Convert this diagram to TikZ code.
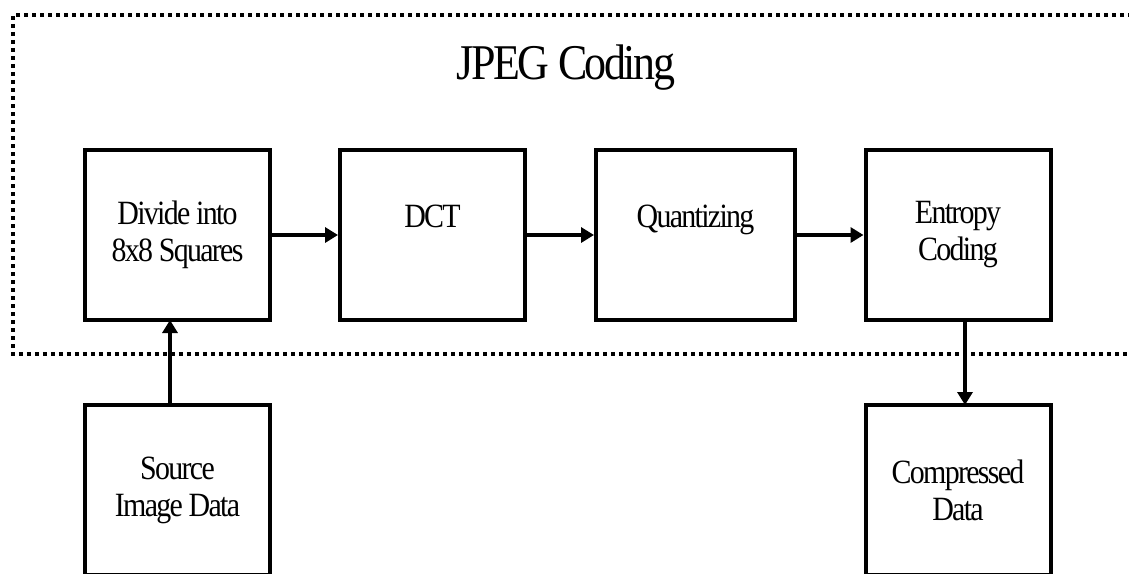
\documentclass[tikz,border=0pt]{standalone}
\usepackage{fontspec}
\setmainfont{Liberation Serif}
\newfontfamily\condserif[FakeStretch=0.88,LetterSpace=-5]{Liberation Serif}
\usetikzlibrary{arrows.meta}
\tikzset{
  stage/.style={draw, line width=4pt, minimum width=185pt, minimum height=170pt,
    inner sep=0pt, align=center, font=\condserif\fontsize{34}{37}\selectfont},
  flow/.style={line width=4pt, -{Triangle[length=13pt,width=15pt]}},
  frame/.style={line width=4pt, dash pattern=on 4pt off 4pt},
}
\begin{document}
\begin{tikzpicture}[x=1pt,y=-1pt]
  \useasboundingbox (0,0) rectangle (1129,573);
  % dotted enclosure of the coding stages, open on the right
  \draw[frame] (1140,15) -- (13,15) -- (13,354) -- (1140,354);
  \node[font=\condserif\fontsize{50}{55}\selectfont] (title) at (566,68) {JPEG Coding};

  \node[stage] (divide) at (177.5,235) {Divide into\\8x8 Squares};
  \node[stage] (dct)    at (432.5,235) {DCT\\\phantom{X}};
  \node[stage, minimum width=199pt] (quant) at (695.5,235) {Quantizing\\\phantom{X}};
  \node[stage] (entropy) at (958,235) {Entropy\\Coding};

  \node[stage] (source) at (177.5,490) {Source\\Image Data};
  \node[stage] (compressed) at (958,490) {Compressed\\Data};

  \draw[flow] (divide) -- (dct);
  \draw[flow] (dct) -- (quant);
  \draw[flow] (quant) -- (entropy);

  \coordinate (srcTop) at (170,405);
  \coordinate (divBot) at (170,320);
  \coordinate (entBot) at (965,320);
  \coordinate (cmpTop) at (965,405);
  \draw[flow] (srcTop) -- (divBot);
  \draw[flow] (entBot) -- (cmpTop);
\end{tikzpicture}
\end{document}
